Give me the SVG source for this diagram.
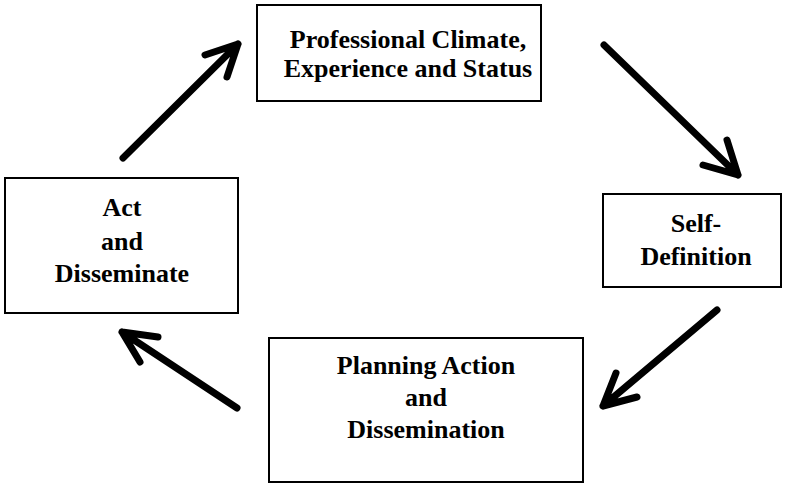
<svg xmlns="http://www.w3.org/2000/svg" width="787" height="483" viewBox="0 0 787 483">
<style>
.box{fill:#fff;stroke:#000;stroke-width:2}
.t{font-family:"Liberation Serif","Times New Roman",serif;font-weight:bold;font-size:26px;text-anchor:middle;fill:#000}
.arr{fill:none;stroke:#000;stroke-width:7;stroke-linecap:round;stroke-linejoin:round}
</style>
<rect width="787" height="483" fill="#fff"/>
<g id="node-professional">
<rect class="box" x="257" y="5" width="284" height="96"/>
<text class="t" x="408" y="48">Professional Climate,</text>
<text class="t" x="408" y="77">Experience and Status</text>
</g>
<g id="node-self">
<rect class="box" x="603" y="194" width="178" height="93"/>
<text class="t" x="696" y="232">Self-</text>
<text class="t" x="696" y="265">Definition</text>
</g>
<g id="node-planning">
<rect class="box" x="269" y="338" width="314" height="144"/>
<text class="t" x="426" y="374">Planning Action</text>
<text class="t" x="426" y="406">and</text>
<text class="t" x="426" y="438">Dissemination</text>
</g>
<g id="node-act">
<rect class="box" x="5" y="178" width="233" height="135"/>
<text class="t" x="122" y="216">Act</text>
<text class="t" x="122" y="250">and</text>
<text class="t" x="122" y="282">Disseminate</text>
</g>
<g id="connectors">
<path class="arr" d="M123 158 L238 44 M205 55 L238 44 L227 77"/>
<path class="arr" d="M604 45 L738 175 M703 165 L738 175 L727 140"/>
<path class="arr" d="M717 310 L603 406 M616 373 L603 406 L637 397"/>
<path class="arr" d="M237 408 L122 332 M158 337 L122 332 L140 362"/>
</g>
</svg>
